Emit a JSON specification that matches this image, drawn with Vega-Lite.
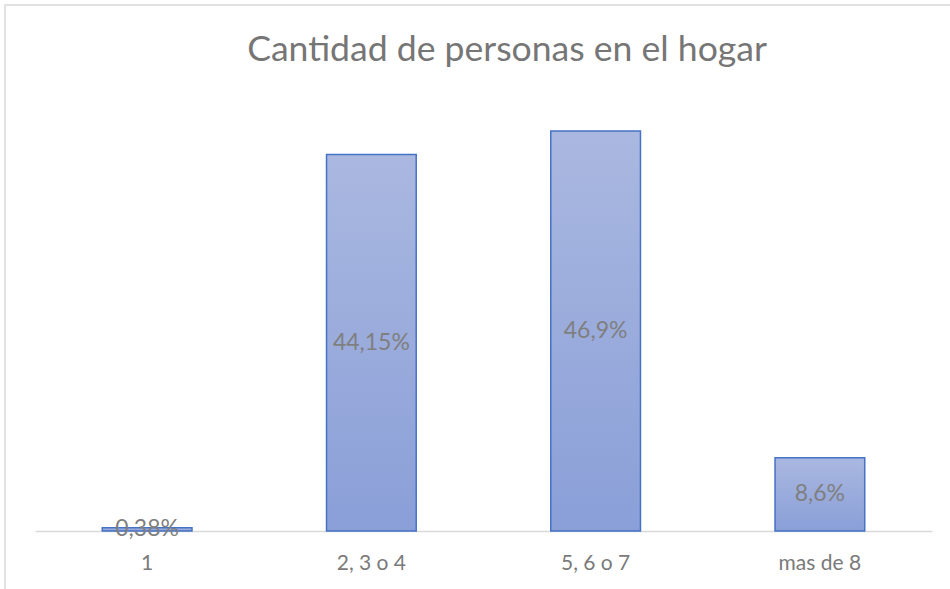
{
  "$schema": "https://vega.github.io/schema/vega-lite/v6.json",
  "autosize": "none",
  "width": 950,
  "height": 590,
  "padding": {"left": 5, "top": 5, "right": 0, "bottom": 0},
  "background": "white",
  "title": {
    "text": "Cantidad de personas en el hogar",
    "orient": "none",
    "anchor": "middle",
    "frame": "group",
    "baseline": "middle",
    "align": "center",
    "dy": 45,
    "dx": 502,
    "font": "Lato",
    "fontSize": 35.6,
    "fontWeight": "normal",
    "color": "#767676"
  },
  "config": {
    "view": {"stroke": "#d9d9d9", "strokeWidth": 1.5},
    "font": "Lato"
  },
  "data": {
    "values": [
      {"categoria": "1", "valor": 0.38, "etiqueta": "0,38%"},
      {"categoria": "2, 3 o 4", "valor": 44.15, "etiqueta": "44,15%"},
      {"categoria": "5, 6 o 7", "valor": 46.9, "etiqueta": "46,9%"},
      {"categoria": "mas de 8", "valor": 8.6, "etiqueta": "8,6%"}
    ]
  },
  "transform": [{"calculate": "datum.valor / 2", "as": "medio"}],
  "encoding": {
    "x": {
      "field": "categoria",
      "type": "nominal",
      "sort": null,
      "scale": {"range": [30, 927], "paddingInner": 0.6, "paddingOuter": 0.3},
      "axis": {
        "title": null,
        "labelAngle": 0,
        "offset": -64,
        "domainColor": "#d9d9d9",
        "domainWidth": 1.5,
        "ticks": false,
        "labelFont": "Lato",
        "labelFontSize": 21,
        "labelColor": "#7a7a7a",
        "labelBaseline": "middle",
        "labelPadding": 32
      }
    }
  },
  "layer": [
    {
      "mark": {
        "type": "bar",
        "stroke": "#4472c4",
        "strokeWidth": 1.5,
        "fill": {
          "gradient": "linear",
          "x1": 0, "y1": 0, "x2": 0, "y2": 1,
          "stops": [
            {"offset": 0, "color": "#aab8e0"},
            {"offset": 1, "color": "#8a9fd8"}
          ]
        }
      },
      "encoding": {
        "y": {
          "field": "valor",
          "type": "quantitative",
          "scale": {"domain": [0, 50], "range": [526, 99.5], "nice": false, "zero": true},
          "axis": null
        }
      }
    },
    {
      "mark": {
        "type": "text",
        "font": "Lato",
        "fontSize": 23,
        "color": "#7f7f7f",
        "baseline": "middle",
        "align": "center"
      },
      "encoding": {
        "y": {"field": "medio", "type": "quantitative", "scale": {"domain": [0, 50], "range": [526, 99.5], "nice": false, "zero": true}, "axis": null},
        "text": {"field": "etiqueta"}
      }
    }
  ]
}
